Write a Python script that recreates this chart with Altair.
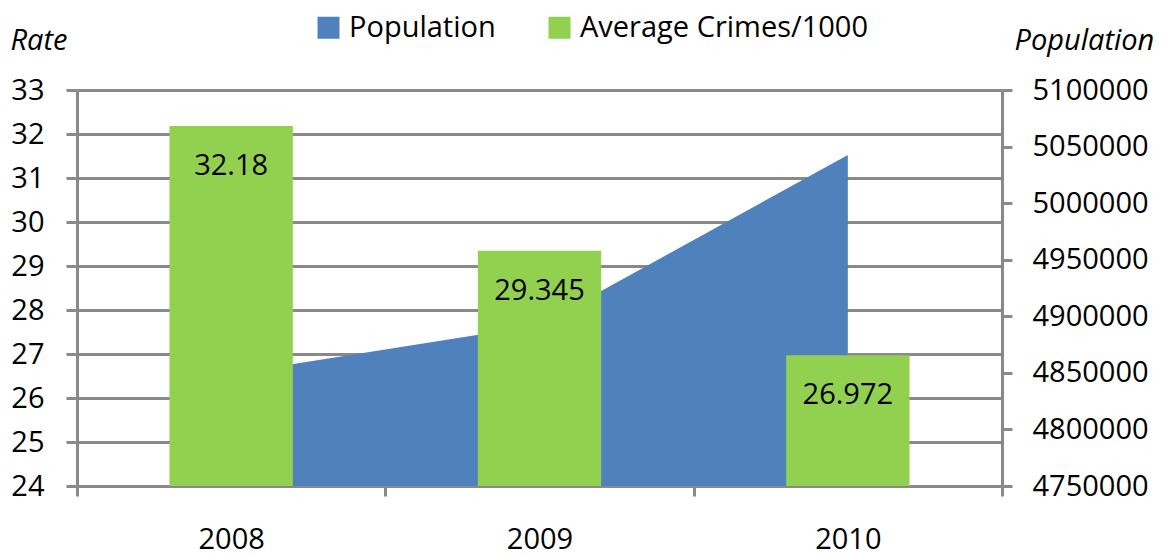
import altair as alt
import pandas as pd

years = ["2008", "2009", "2010"]
population = [4849000, 4892300, 5042500]
crime_rate = [32.18, 29.345, 26.972]
crime_labels = ["32.18", "29.345", "26.972"]
series_names = ["Population", "Average Crimes/1000"]
series_colors = ["#4F81BD", "#92D050"]
rate_ticks = list(range(24, 34))
pop_ticks = list(range(4750000, 5100001, 50000))

df = pd.DataFrame({"year": years, "population": population,
                   "rate": crime_rate, "label": crime_labels})
df_area = df.assign(series=series_names[0])
df_bar = df.assign(series=series_names[1])

FONT = "Open Sans"
GRID = "#898989"
FS = 29

color = alt.Color(
    "series:N",
    scale=alt.Scale(domain=series_names, range=series_colors),
    legend=alt.Legend(title=None, orient="none", legendX=237, legendY=-77,
                      direction="horizontal", symbolType="square", symbolSize=484,
                      symbolStrokeWidth=0, labelFontSize=FS, labelFont=FONT,
                      labelColor="black", columnPadding=49, labelOffset=6, padding=0,
                      labelLimit=0),
)

xenc = alt.X(
    "year:N",
    scale=alt.Scale(paddingInner=0, paddingOuter=0),
    axis=alt.Axis(title=None, tickBand="extent", labelAngle=0, labelFontSize=FS,
                  labelFont=FONT, labelColor="black", tickSize=10, tickWidth=3,
                  tickColor=GRID, domainColor=GRID, domainWidth=3, labelPadding=29,
                  grid=False),
)

rate_scale = alt.Scale(domain=[24, 33], nice=False, zero=False)

area = alt.Chart(df_area).mark_area(opacity=1).encode(
    x=xenc,
    y=alt.Y("population:Q",
            scale=alt.Scale(domain=[4750000, 5100000], zero=False, nice=False),
            axis=alt.Axis(orient="right", title="Population", titleAngle=0,
                          titleFontStyle="italic", titleFont=FONT, titleFontSize=FS,
                          titleFontWeight="normal", titleColor="black", titleAlign="left",
                          titleBaseline="middle", titleX=12, titleY=-50,
                          values=pop_ticks, format="d", labelFontSize=FS, labelFont=FONT,
                          labelColor="black", grid=False, tickSize=10, tickWidth=3,
                          tickColor=GRID, domainColor=GRID, domainWidth=3, labelPadding=20)),
    y2=alt.datum(4750000),
    color=color,
)

bars = alt.Chart(df_bar).mark_bar(width=alt.RelativeBandSize(0.4)).encode(
    x=xenc,
    y=alt.Y("rate:Q", scale=rate_scale,
            axis=alt.Axis(orient="left", title="Rate", titleAngle=0,
                          titleFontStyle="italic", titleFont=FONT, titleFontSize=FS,
                          titleFontWeight="normal", titleColor="black", titleAlign="left",
                          titleBaseline="middle", titleX=-67, titleY=-50,
                          values=rate_ticks, labelFontSize=FS, labelFont=FONT,
                          labelColor="black", grid=True, gridColor=GRID, gridWidth=3,
                          tickSize=11, tickWidth=3, tickColor=GRID, domainColor=GRID,
                          domainWidth=3, labelPadding=22)),
    y2=alt.datum(24),
    color=color,
)

text = alt.Chart(df_bar).mark_text(dy=40, fontSize=FS, font=FONT, color="black",
                                   baseline="middle").encode(
    x=xenc,
    y=alt.Y("rate:Q", scale=rate_scale, axis=None),
    text="label:N",
)

chart = alt.layer(area, bars, text).resolve_scale(y="independent").properties(
    width=925, height=396,
    padding={"left": 69, "top": 82, "right": 156, "bottom": 82},
    autosize=alt.AutoSizeParams(type="none"),
    background="white",
).configure_view(stroke=None)

chart.save("out.html", embed_options={"renderer": "svg", "actions": False})
